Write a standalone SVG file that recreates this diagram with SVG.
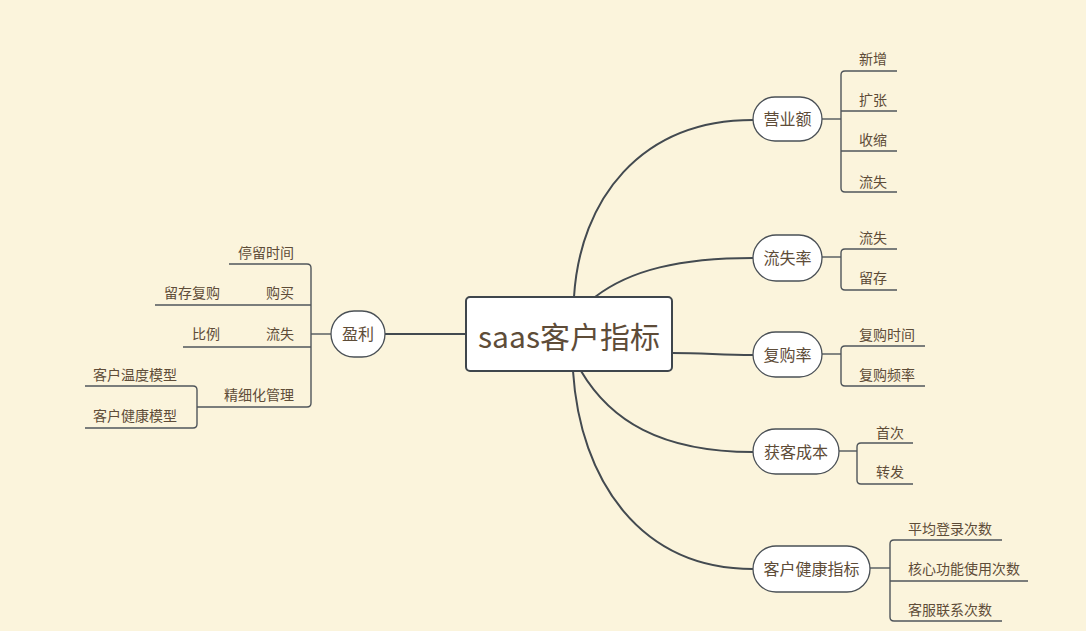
<svg xmlns="http://www.w3.org/2000/svg" width="1086" height="631" viewBox="0 0 1086 631">
<style>
.bg{fill:#fbf4dc}
.main{fill:none;stroke:#434a50;stroke-width:2}
.br{fill:none;stroke:#50565b;stroke-width:1.4}
.node{fill:#ffffff;stroke:#4a5056;stroke-width:1.3}
.root{fill:#ffffff;stroke:#3f464c;stroke-width:2}
text{font-family:"Noto Sans CJK SC","Noto Sans",sans-serif;fill:#5e4c38}
.t1{font-size:16px;text-anchor:middle}
.t2{font-size:14px}
.te{text-anchor:end}
.tr{font-size:30px;text-anchor:middle}
</style>
<rect class="bg" x="0" y="0" width="1086" height="631"/>
<g id="connectors">
<path class="main" d="M574,297 C580,200 640,120 753,120"/>
<path class="main" d="M595,297 C630,270 680,258 753,258"/>
<path class="main" d="M672,353 C705,353 720,355 753,355"/>
<path class="main" d="M581,371 C610,420 660,452 753,452"/>
<path class="main" d="M573,371 C580,480 640,569 753,569"/>
<path class="main" d="M466,334 H385"/>
<!-- 营业额 -->
<path class="br" d="M822,119 H841"/>
<path class="br" d="M897,71 H845 Q841,71 841,75 V188 Q841,192 845,192 H897"/>
<path class="br" d="M841,111 H897 M841,151 H897"/>
<!-- 流失率 -->
<path class="br" d="M822,257 H841"/>
<path class="br" d="M897,249 H845 Q841,249 841,253 V286 Q841,290 845,290 H897"/>
<!-- 复购率 -->
<path class="br" d="M822,354 H841"/>
<path class="br" d="M925,346 H845 Q841,346 841,350 V382 Q841,386 845,386 H925"/>
<!-- 获客成本 -->
<path class="br" d="M839,451 H857"/>
<path class="br" d="M913,443 H861 Q857,443 857,447 V480 Q857,484 861,484 H913"/>
<!-- 客户健康指标 -->
<path class="br" d="M870,568 H890"/>
<path class="br" d="M1002,540 H894 Q890,540 890,544 V617 Q890,621 894,621 H1002"/>
<path class="br" d="M890,581 H1028"/>
<!-- 盈利 -->
<path class="br" d="M331,334 H311"/>
<path class="br" d="M229,264 H307 Q311,264 311,268 V403 Q311,407 307,407 H197"/>
<path class="br" d="M155,305 H311 M183,347 H311"/>
<path class="br" d="M85,386 H193 Q197,386 197,390 V424 Q197,428 193,428 H85"/>
</g>
<g id="root">
<rect class="root" x="466" y="297" width="206" height="74" rx="4"/>
<text class="tr" x="569" y="348">saas客户指标</text>
</g>
<g id="n-yingyee">
<rect class="node" x="753" y="97" width="69" height="44" rx="22"/>
<text class="t1" x="787.5" y="125">营业额</text>
</g>
<g id="n-liushilv">
<rect class="node" x="753" y="235" width="69" height="46" rx="23"/>
<text class="t1" x="787.5" y="264">流失率</text>
</g>
<g id="n-fugoulv">
<rect class="node" x="753" y="332" width="69" height="45" rx="22.5"/>
<text class="t1" x="787.5" y="361">复购率</text>
</g>
<g id="n-huokechengben">
<rect class="node" x="753" y="429" width="86" height="45" rx="22.5"/>
<text class="t1" x="796" y="458">获客成本</text>
</g>
<g id="n-kehujiankang">
<rect class="node" x="753" y="546" width="117" height="46" rx="23"/>
<text class="t1" x="811.5" y="575">客户健康指标</text>
</g>
<g id="n-yingli">
<rect class="node" x="331" y="311" width="54" height="46" rx="23"/>
<text class="t1" x="358" y="340">盈利</text>
</g>
<g id="c-xinzeng"><text class="t2" x="859" y="64">新增</text></g>
<g id="c-kuozhang"><text class="t2" x="859" y="105">扩张</text></g>
<g id="c-shousuo"><text class="t2" x="859" y="145">收缩</text></g>
<g id="c-liushi1"><text class="t2" x="859" y="187">流失</text></g>
<g id="c-liushi2"><text class="t2" x="859" y="243">流失</text></g>
<g id="c-liucun"><text class="t2" x="859" y="283">留存</text></g>
<g id="c-fugoushijian"><text class="t2" x="859" y="340">复购时间</text></g>
<g id="c-fugoupinlv"><text class="t2" x="859" y="380">复购频率</text></g>
<g id="c-shouci"><text class="t2" x="876" y="438">首次</text></g>
<g id="c-zhuanfa"><text class="t2" x="876" y="477">转发</text></g>
<g id="c-pingjun"><text class="t2" x="908" y="534">平均登录次数</text></g>
<g id="c-hexin"><text class="t2" x="908" y="574">核心功能使用次数</text></g>
<g id="c-kefu"><text class="t2" x="908" y="615">客服联系次数</text></g>
<g id="c-tingliu"><text class="t2 te" x="294" y="258">停留时间</text></g>
<g id="c-goumai"><text class="t2 te" x="294" y="298">购买</text></g>
<g id="c-liucunfugou"><text class="t2 te" x="220" y="298">留存复购</text></g>
<g id="c-liushi3"><text class="t2 te" x="294" y="339">流失</text></g>
<g id="c-bili"><text class="t2 te" x="220" y="339">比例</text></g>
<g id="c-jingxihua"><text class="t2 te" x="294" y="400">精细化管理</text></g>
<g id="c-wendu"><text class="t2" x="93" y="380">客户温度模型</text></g>
<g id="c-jiankang"><text class="t2" x="93" y="421">客户健康模型</text></g>
</svg>
